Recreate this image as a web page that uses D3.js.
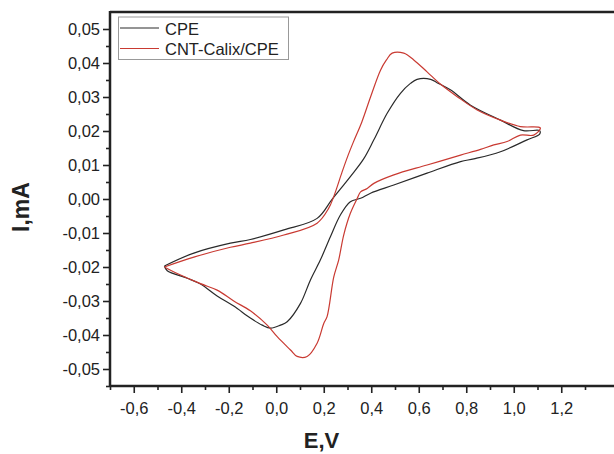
<!DOCTYPE html>
<html>
<head>
<meta charset="utf-8">
<script src="https://cdn.jsdelivr.net/npm/d3@7"></script>
<style>
  html, body { margin: 0; padding: 0; background: #fff; }
  svg { display: block; }
  text { font-family: "Liberation Sans", Arial, sans-serif; fill: #222; }
</style>
</head>
<body>
<svg id="chart" width="614" height="454"></svg>
<script>
// ---- data ----
const seriesNames = ["CPE", "CNT-Calix/CPE"];
const seriesColors = ["#2a2a2a", "#c93a32"];

// CPE: forward scan (left vertex -> right vertex) then reverse scan back
const cpeE = [-0.471, -0.347, -0.193, -0.109, 0.032, 0.172, 0.235, 0.312, 0.368, 0.411, 0.467, 0.523, 0.565, 0.593, 0.650, 0.677, 0.733, 0.818, 0.944, 1.041, 1.109,
              1.109, 1.056, 0.944, 0.832, 0.776, 0.635, 0.495, 0.397, 0.355, 0.312, 0.270, 0.228, 0.186, 0.144, 0.102, 0.046, 0.018, -0.024, -0.059, -0.109, -0.179, -0.249, -0.319, -0.375, -0.459, -0.471];
const cpeI = [-0.0197, -0.0159, -0.0130, -0.0119, -0.0091, -0.0057, -0.0001, 0.0066, 0.0118, 0.0174, 0.0252, 0.0311, 0.0340, 0.0352, 0.0352, 0.0342, 0.0321, 0.0276, 0.0232, 0.0201, 0.0201,
              0.0191, 0.0174, 0.0139, 0.0118, 0.0110, 0.0076, 0.0041, 0.0017, 0.0002, -0.0008, -0.0047, -0.0111, -0.0179, -0.0238, -0.0307, -0.0361, -0.0371, -0.0380, -0.0371, -0.0350, -0.0315, -0.0285, -0.0250, -0.0233, -0.0211, -0.0197];

// CNT-Calix/CPE
const calixE = [-0.471, -0.347, -0.193, -0.109, 0.032, 0.172, 0.221, 0.242, 0.277, 0.300, 0.325, 0.360, 0.397, 0.439, 0.464, 0.488, 0.537, 0.579, 0.635, 0.691, 0.762, 0.846, 0.944, 1.028, 1.112,
                1.084, 1.028, 0.972, 0.916, 0.860, 0.776, 0.635, 0.495, 0.411, 0.383, 0.355, 0.341, 0.312, 0.284, 0.263, 0.242, 0.214, 0.200, 0.172, 0.130, 0.088, 0.060, 0.004, -0.038, -0.109, -0.179, -0.249, -0.319, -0.417, -0.471];
const calixI = [-0.0200, -0.0171, -0.0142, -0.0130, -0.0106, -0.0071, -0.0027, 0.0007, 0.0079, 0.0124, 0.0168, 0.0226, 0.0300, 0.0379, 0.0409, 0.0429, 0.0429, 0.0409, 0.0374, 0.0338, 0.0301, 0.0262, 0.0232, 0.0213, 0.0209,
                0.0188, 0.0188, 0.0169, 0.0159, 0.0146, 0.0129, 0.0100, 0.0071, 0.0046, 0.0031, 0.0021, 0.0002, -0.0042, -0.0106, -0.0179, -0.0230, -0.0346, -0.0366, -0.0424, -0.0463, -0.0463, -0.0444, -0.0405, -0.0371, -0.0329, -0.0300, -0.0268, -0.0249, -0.0219, -0.0200];

const xTickValues = [-0.6, -0.4, -0.2, 0.0, 0.2, 0.4, 0.6, 0.8, 1.0, 1.2];
const xMinorValues = [-0.7, -0.5, -0.3, -0.1, 0.1, 0.3, 0.5, 0.7, 0.9, 1.1, 1.3];
const yTickValues = [-0.05, -0.04, -0.03, -0.02, -0.01, 0.00, 0.01, 0.02, 0.03, 0.04, 0.05];
const yMinorValues = [-0.055, -0.045, -0.035, -0.025, -0.015, -0.005, 0.005, 0.015, 0.025, 0.035, 0.045];
const xTitle = "E,V";
const yTitle = "I,mA";

// ---- layout ----
const svg = d3.select("#chart");
const plotLeft = 110, plotTop = 12, plotBottom = 386;
const x = d3.scaleLinear().domain([-0.7, 1.45]).range([plotLeft, plotLeft + 2.15 * 237.5]);
const y = d3.scaleLinear().domain([-0.055, 0.055]).range([plotBottom, plotTop]);

const locale = d3.formatLocale({decimal: ",", thousands: ".", grouping: [3], currency: ["", ""], minus: "-"});
const fx = locale.format(".1f");
const fy = locale.format(".2f");

// curves
const line = d3.line().x(d => x(d[0])).y(d => y(d[1])).curve(d3.curveCatmullRom.alpha(0.5));
const series = [d3.zip(cpeE, cpeI), d3.zip(calixE, calixI)];
series.forEach((s, i) => {
  svg.append("path").datum(s)
    .attr("d", line)
    .attr("fill", "none")
    .attr("stroke", seriesColors[i])
    .attr("stroke-width", 1.2)
    .attr("stroke-linejoin", "round");
});

// axes
const gx = svg.append("g").attr("transform", `translate(0,${plotBottom})`)
  .call(d3.axisBottom(x).tickValues(xTickValues).tickSize(7).tickPadding(9).tickSizeOuter(0).tickFormat(fx));
const gxm = svg.append("g").attr("transform", `translate(0,${plotBottom})`)
  .call(d3.axisBottom(x).tickValues(xMinorValues).tickSize(4).tickSizeOuter(0).tickFormat(""));
const gy = svg.append("g").attr("transform", `translate(${plotLeft},0)`)
  .call(d3.axisLeft(y).tickValues(yTickValues).tickSize(7).tickPadding(3).tickSizeOuter(0).tickFormat(fy));
const gym = svg.append("g").attr("transform", `translate(${plotLeft},0)`)
  .call(d3.axisLeft(y).tickValues(yMinorValues).tickSize(4).tickSizeOuter(0).tickFormat(""));

[gx, gxm, gy, gym].forEach(g => {
  g.select(".domain").remove();
  g.selectAll(".tick line").attr("stroke", "#222").attr("stroke-width", 1.6);
  g.selectAll(".tick text").attr("font-size", 16.5).attr("fill", "#222")
    .attr("font-family", "'Liberation Sans', Arial, sans-serif");
});

// frame
svg.append("line").attr("x1", plotLeft).attr("x2", 614).attr("y1", plotTop).attr("y2", plotTop)
  .attr("stroke", "#222").attr("stroke-width", 2.5);
svg.append("line").attr("x1", plotLeft).attr("x2", plotLeft).attr("y1", plotTop - 1).attr("y2", plotBottom + 1)
  .attr("stroke", "#222").attr("stroke-width", 2.5);
svg.append("line").attr("x1", plotLeft).attr("x2", 614).attr("y1", plotBottom).attr("y2", plotBottom)
  .attr("stroke", "#222").attr("stroke-width", 2.5);

// titles
svg.append("text").attr("x", 321.5).attr("y", 448).attr("text-anchor", "middle")
  .attr("font-size", 22).attr("font-weight", "bold").text(xTitle);
svg.append("text").attr("transform", "translate(29,207) rotate(-90)").attr("text-anchor", "middle")
  .attr("font-size", 23).attr("font-weight", "bold").text(yTitle);

// legend
const lg = svg.append("g");
lg.append("rect").attr("x", 118.5).attr("y", 17).attr("width", 170).attr("height", 42.5)
  .attr("fill", "#fff").attr("stroke", "#999").attr("stroke-width", 1);
const legendY = [28, 48.5];
seriesNames.forEach((n, i) => {
  lg.append("line").attr("x1", 120).attr("x2", 159).attr("y1", legendY[i]).attr("y2", legendY[i])
    .attr("stroke", seriesColors[i]).attr("stroke-width", 1);
  lg.append("text").attr("x", 165).attr("y", legendY[i] + 6.5)
    .attr("font-size", 16.5).text(n);
});
</script>
</body>
</html>
